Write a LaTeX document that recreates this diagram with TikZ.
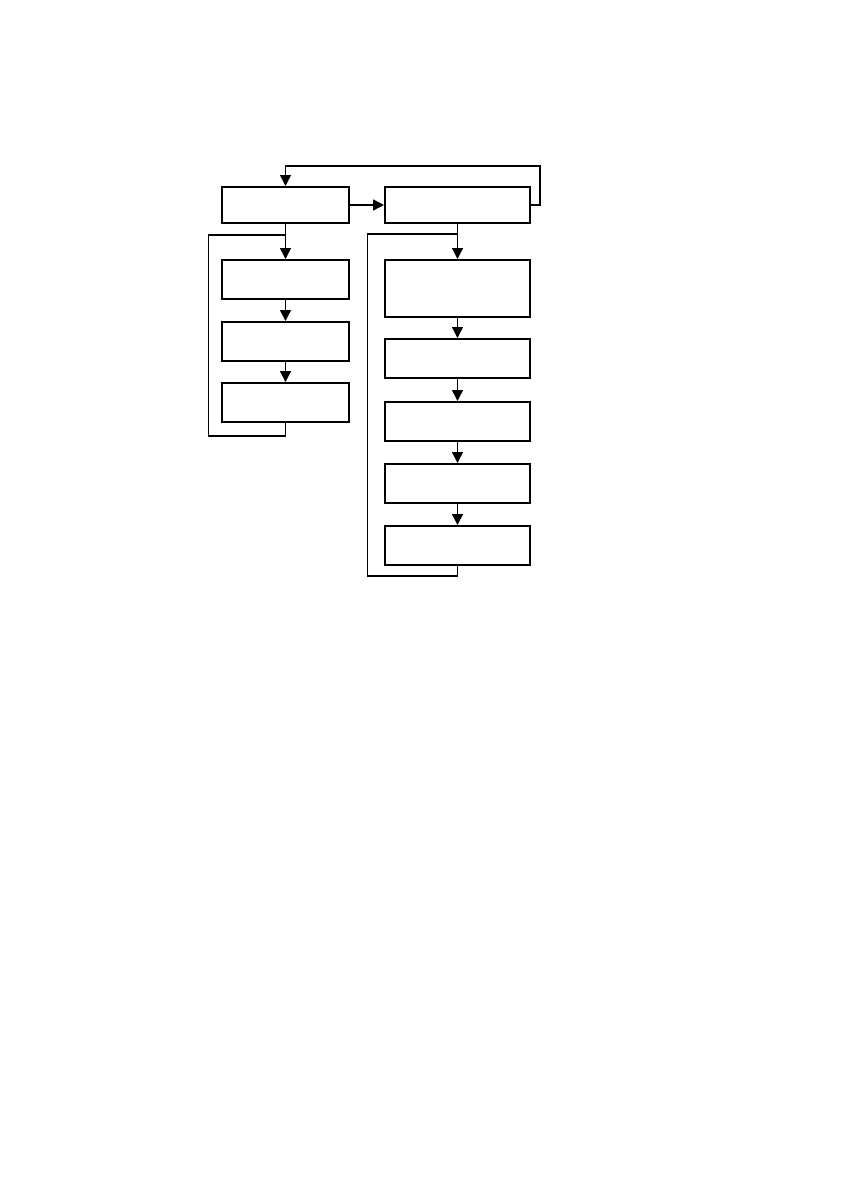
\documentclass[tikz,border=0pt]{standalone}
\usetikzlibrary{arrows.meta}
\begin{document}
\begin{tikzpicture}[x=1pt,y=-1pt,
  boxst/.style={draw=black,line width=2pt,minimum width=#1,inner sep=0pt,anchor=north west},
  conn/.style={draw=black,line width=1.4pt},
  arr/.style={conn,-{Triangle[width=11pt,length=11pt]}}]
\path[use as bounding box,fill=white] (0,0) rectangle (842,1191);
% left column
\node[boxst=127pt,minimum height=36pt] (A) at (221,186) {};
\node[boxst=127pt,minimum height=39pt] (L1) at (221,259) {};
\node[boxst=127pt,minimum height=39pt] (L2) at (221,321) {};
\node[boxst=127pt,minimum height=39pt] (L3) at (221,382) {};
% right column
\node[boxst=145pt,minimum height=36pt] (B) at (384,186) {};
\node[boxst=145pt,minimum height=57pt] (R1) at (384,259) {};
\node[boxst=145pt,minimum height=39pt] (R2) at (384,338) {};
\node[boxst=145pt,minimum height=39pt] (R3) at (384,401) {};
\node[boxst=145pt,minimum height=39pt] (R4) at (384,463) {};
\node[boxst=145pt,minimum height=39pt] (R5) at (384,525) {};
% coordinates
\coordinate (topc) at (540,166);
\coordinate (lj) at (284.5,235);
\coordinate (rj) at (456.5,234);
% connectors
\draw[arr] (A.east) -- (B.west);
\draw[arr] (B.east) -| (topc) -| (A.north);
\draw[arr] (A.south) -- (L1.north);
\draw[arr] (L1.south) -- (L2.north);
\draw[arr] (L2.south) -- (L3.north);
\draw[conn] (L3.south) -- ++(0,13) -| (208.5,235) -- (lj);
\draw[arr] (B.south) -- (R1.north);
\draw[arr] (R1.south) -- (R2.north);
\draw[arr] (R2.south) -- (R3.north);
\draw[arr] (R3.south) -- (R4.north);
\draw[arr] (R4.south) -- (R5.north);
\draw[conn] (R5.south) -- ++(0,10) -| (367.5,234) -- (rj);
\end{tikzpicture}
\end{document}
